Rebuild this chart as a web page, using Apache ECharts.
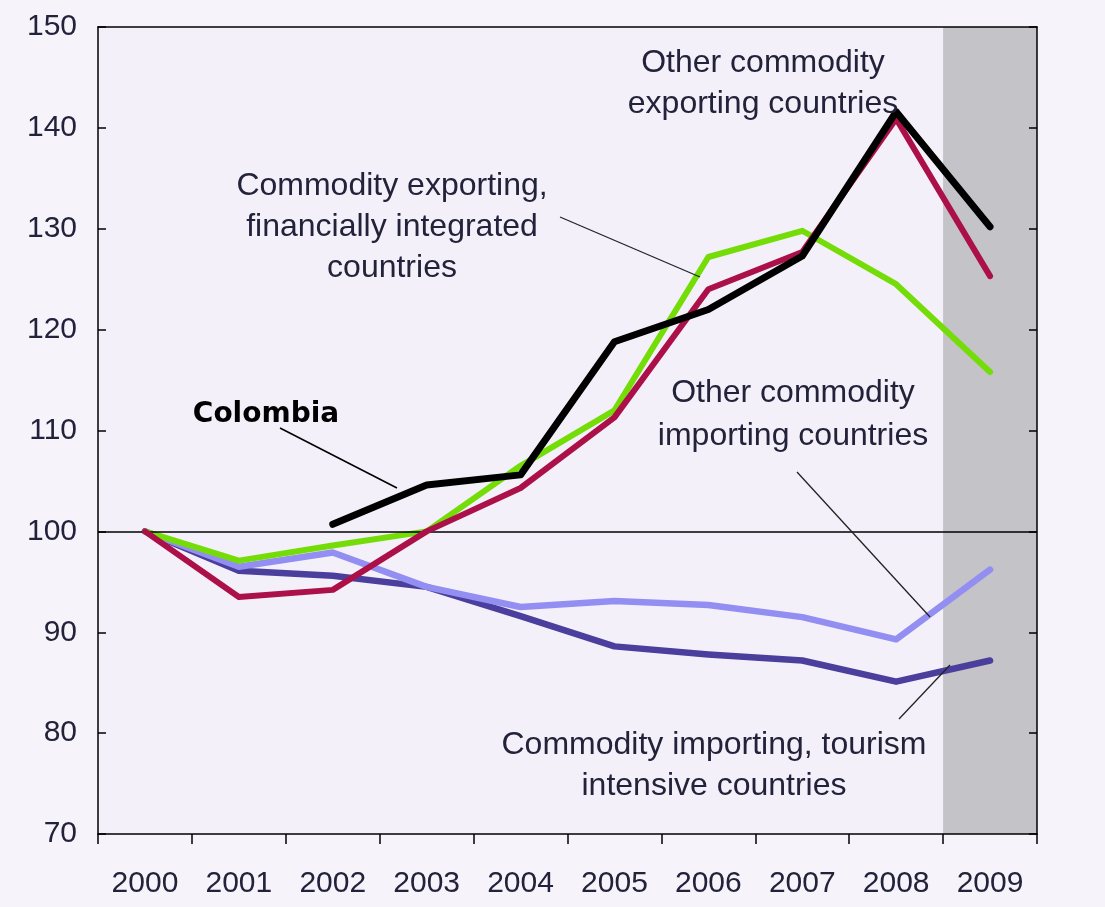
<!DOCTYPE html>
<html>
<head>
<meta charset="utf-8">
<script src="https://cdn.jsdelivr.net/npm/echarts@6/dist/echarts.min.js"></script>
<style>
  html, body { margin: 0; padding: 0; background: #f6f3fa; }
  #chart { width: 1105px; height: 907px; }
</style>
</head>
<body>
<div id="chart"></div>
<script>
// ---- data ----
const years = ['2000','2001','2002','2003','2004','2005','2006','2007','2008','2009'];
const colombia        = [null, null, 100.7, 104.6, 105.6, 118.8, 122.0, 127.3, 141.6, 130.2];
const exportFinInteg  = [100, 97.1, 98.6, 100.0, 106.5, 112.0, 127.2, 129.8, 124.5, 115.8];
const otherExporting  = [100, 93.5, 94.2, 100.0, 104.3, 111.3, 124.0, 127.7, 140.9, 125.3];
const otherImporting  = [100, 96.5, 97.9, 94.5, 92.5, 93.1, 92.7, 91.5, 89.3, 96.2];
const importTourism   = [100, 96.1, 95.6, 94.5, 91.6, 88.6, 87.8, 87.2, 85.1, 87.2];
const shadedPeriod    = [null, null, null, null, null, null, null, null, null, 150];
const baseline = 100;
const yTicks = { min: 70, max: 150, interval: 10 };

const FONT = 'Liberation Sans, Arial, sans-serif';
const TXT = '#22223a';

const chart = echarts.init(document.getElementById('chart'));

function lineSeries(name, data, color, width, z) {
  return {
    name, type: 'line', data, symbol: 'none', smooth: false, z,
    connectNulls: false,
    lineStyle: { color, width, cap: 'round', join: 'round' },
    emphasis: { disabled: true }
  };
}

const option = {
  animation: false,
  backgroundColor: '#f6f3fa',
  grid: { left: 98, right: 68, top: 27, bottom: 73, show: true, backgroundColor: '#f4f0f9', borderWidth: 0 },
  xAxis: [
    {
      type: 'category', data: years, boundaryGap: true,
      axisLine: { show: true, lineStyle: { color: '#000', width: 1.5 } },
      axisTick: { show: true, inside: false, length: 10, interval: 0, lineStyle: { color: '#000', width: 1.5 } },
      axisLabel: { fontSize: 30, color: TXT, margin: 35, fontFamily: FONT, interval: 0 },
      splitLine: { show: false }, z: 4
    },
    {
      type: 'category', data: years, position: 'top', boundaryGap: true,
      axisLine: { show: true, lineStyle: { color: '#000', width: 1.5 } },
      axisTick: { show: false }, axisLabel: { show: false }, splitLine: { show: false }, z: 4
    }
  ],
  yAxis: [
    {
      type: 'value', min: yTicks.min, max: yTicks.max, interval: yTicks.interval,
      axisLine: { show: true, lineStyle: { color: '#000', width: 1.5 } },
      axisTick: { show: true, inside: true, length: 8, lineStyle: { color: '#000', width: 1.5 } },
      axisLabel: { fontSize: 30, color: TXT, margin: 21, fontFamily: FONT },
      splitLine: { show: false }, z: 4
    },
    {
      type: 'value', position: 'right', min: yTicks.min, max: yTicks.max, interval: yTicks.interval,
      axisLine: { show: true, lineStyle: { color: '#000', width: 1.5 } },
      axisTick: { show: true, inside: true, length: 8, lineStyle: { color: '#000', width: 1.5 } },
      axisLabel: { show: false }, splitLine: { show: false }, z: 4
    }
  ],
  series: [
    {
      name: 'shade', type: 'bar', data: shadedPeriod, barWidth: '100%', barGap: '0%', barCategoryGap: '0%',
      itemStyle: { color: '#c4c3c7' }, z: 1, silent: true, clip: true,
      markLine: {
        silent: true, symbol: 'none', label: { show: false },
        lineStyle: { color: '#000', width: 1.5, type: 'solid' },
        data: [{ yAxis: baseline }]
      }
    },
    lineSeries('Commodity importing, tourism intensive countries', importTourism, '#4b3f9e', 6.5, 2),
    lineSeries('Other commodity importing countries', otherImporting, '#938ff2', 6.5, 3),
    lineSeries('Commodity exporting, financially integrated countries', exportFinInteg, '#74dd08', 6, 4),
    lineSeries('Other commodity exporting countries', otherExporting, '#ab1148', 6, 5),
    lineSeries('Colombia', colombia, '#000000', 7, 6)
  ],
  graphic: [
    { type: 'text', x: 763, y: 84, z: 10, style: { text: 'Other commodity\nexporting countries', fontSize: 32, fontFamily: FONT, fill: TXT, align: 'center', verticalAlign: 'middle', lineHeight: 41 } },
    { type: 'text', x: 392, y: 227, z: 10, style: { text: 'Commodity exporting,\nfinancially integrated\ncountries', fontSize: 32, fontFamily: FONT, fill: TXT, align: 'center', verticalAlign: 'middle', lineHeight: 41 } },
    { type: 'text', x: 793, y: 415, z: 10, style: { text: 'Other commodity\nimporting countries', fontSize: 32, fontFamily: FONT, fill: TXT, align: 'center', verticalAlign: 'middle', lineHeight: 43 } },
    { type: 'text', x: 714, y: 766, z: 10, style: { text: 'Commodity importing, tourism\nintensive countries', fontSize: 32, fontFamily: FONT, fill: TXT, align: 'center', verticalAlign: 'middle', lineHeight: 41 } },
    { type: 'text', x: 266, y: 415, z: 10, style: { text: 'Colombia', fontSize: 28, fontWeight: 'bold', fontFamily: 'DejaVu Sans, Verdana, sans-serif', fill: '#000', align: 'center', verticalAlign: 'middle' } },
    { type: 'line', z: 10, shape: { x1: 560, y1: 217, x2: 700, y2: 277 }, style: { stroke: '#222', lineWidth: 1.3 } },
    { type: 'line', z: 10, shape: { x1: 280, y1: 428, x2: 397, y2: 488 }, style: { stroke: '#000', lineWidth: 1.5 } },
    { type: 'line', z: 10, shape: { x1: 797, y1: 472, x2: 930, y2: 617 }, style: { stroke: '#222', lineWidth: 1.3 } },
    { type: 'line', z: 10, shape: { x1: 899, y1: 719, x2: 950, y2: 665 }, style: { stroke: '#222', lineWidth: 1.3 } }
  ]
};
chart.setOption(option);
</script>
</body>
</html>
